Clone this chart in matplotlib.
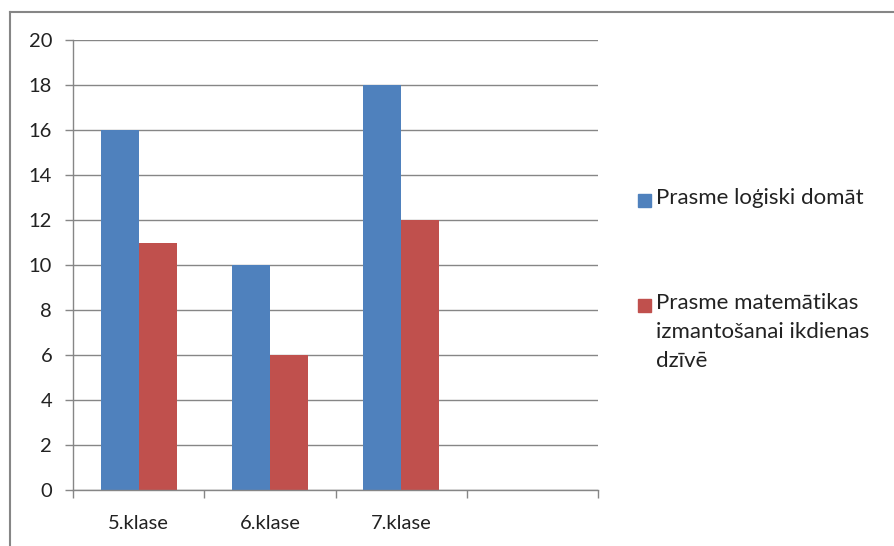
import matplotlib.pyplot as plt
from matplotlib.lines import Line2D
from matplotlib.patches import Rectangle
import numpy as np

categories = ['5.klase', '6.klase', '7.klase', '']
logiski = [16, 10, 18, 0]
matematika = [11, 6, 12, 0]
labels = ['Prasme loģiski domāt', 'Prasme matemātikas\nizmantošanai ikdienas\ndzīvē']
colors = ['#4F81BD', '#C0504D']

plt.rcParams['font.family'] = ['Lato', 'DejaVu Sans']
grey = '#868686'
W, H = 894, 546

fig = plt.figure(figsize=(8.94, 5.46), dpi=100)
ax = fig.add_axes([73 / W, 56 / H, 525 / W, 450 / H])

x = np.arange(len(categories))
w = 0.29
ax.bar(x[:3] - w / 2, logiski[:3], w, color=colors[0])
ax.bar(x[:3] + w / 2, matematika[:3], w, color=colors[1])

ax.set_xlim(-0.5, 3.5)
ax.set_ylim(0, 20)
ax.set_yticks(range(0, 21, 2))
ax.yaxis.grid(True, color=grey, linewidth=1)
ax.set_axisbelow(True)

# category boundaries as major ticks, names as minor ticks
ax.set_xticks(np.arange(-0.5, 4, 1))
ax.set_xticklabels([])
ax.set_xticks(x, categories, minor=True)
ax.tick_params(axis='x', which='major', length=6, color=grey, width=1)
ax.tick_params(axis='x', which='minor', length=0, pad=18, labelsize=14.5, labelcolor='#222222')
ax.tick_params(axis='y', length=6, color=grey, width=1, pad=9, labelsize=14.5, labelcolor='#222222')

for s in ['top', 'right']:
    ax.spines[s].set_visible(False)
for s in ['left', 'bottom']:
    ax.spines[s].set_color(grey)
    ax.spines[s].set_linewidth(1)

# legend, drawn by hand so the square sits at the first line
for i, (lab, c) in enumerate(zip(labels, colors)):
    yc = [200, 305][i]
    fig.add_artist(Rectangle((638 / W, 1 - (yc + 7) / H), 13 / W, 13 / H, color=c,
                             transform=fig.transFigure))
    fig.text(656 / W, 1 - (yc - 12) / H, lab, fontsize=16, color='#222222',
             va='top', ha='left', linespacing=1.55)

# outer frame (top and left only)
fig.add_artist(Line2D([10 / W, 10 / W], [0, 1 - 12 / H], color=grey, linewidth=1.5,
                      transform=fig.transFigure))
fig.add_artist(Line2D([10 / W, 1], [1 - 12 / H, 1 - 12 / H], color=grey, linewidth=1.5,
                      transform=fig.transFigure))

fig.savefig('out.png', dpi=100)
